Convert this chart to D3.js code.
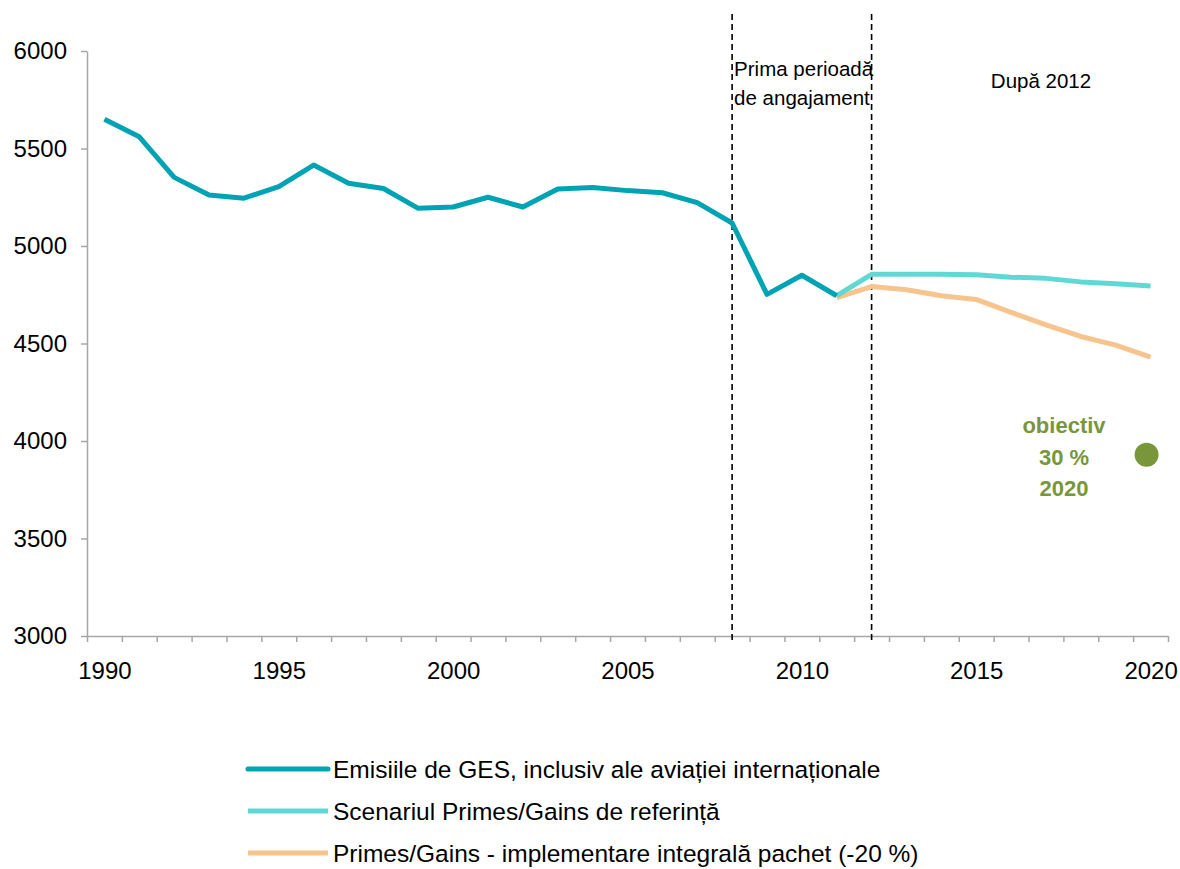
<!DOCTYPE html>
<meta charset="utf-8">
<style>
body { margin: 0; background: #fff; }
svg { font-family: "Liberation Sans", Arial, sans-serif; }
.axis path, .axis line { stroke: #a6a6a6; stroke-width: 1.5; }
.axis text { fill: #000; font-size: 24px; }
</style>
<svg width="1180" height="869"></svg>
<script src="https://d3js.org/d3.v7.min.js"></script>
<script>

var years = d3.range(1990, 2021);
var labelYears = [1990, 1995, 2000, 2005, 2010, 2015, 2020];
var yTicks = [3000, 3500, 4000, 4500, 5000, 5500, 6000];

// emisii istorice 1990-2011
var histYears = d3.range(1990, 2012);
var histValues = [5650, 5560, 5352, 5262, 5245, 5304, 5415, 5322, 5295, 5193,
                  5200, 5250, 5200, 5292, 5300, 5284, 5273, 5222, 5118, 4752,
                  4850, 4745];

// scenarii 2011-2020
var scenYears = d3.range(2011, 2021);
var refValues = [4745, 4855, 4855, 4855, 4853, 4840, 4834, 4816, 4806, 4795];
var pkgValues = [4735, 4792, 4776, 4745, 4726, 4660, 4596, 4536, 4492, 4430];

var target = {year: 2020, value: 3930};
var periodYears = [2008, 2012];

var seriesNames = [
  "Emisiile de GES, inclusiv ale aviației internaționale",
  "Scenariul Primes/Gains de referință",
  "Primes/Gains - implementare integrală pachet (-20 %)"
];
var seriesColors = ["#00a3b4", "#60d8d4", "#f8c48e"];

var svg = d3.select("svg");

var x = d3.scaleLinear().domain([1989.5, 2020.5]).range([87, 1168]);
var y = d3.scaleLinear().domain([3000, 6000]).range([636, 51]);

// axa Y
svg.append("g")
    .attr("class", "axis")
    .attr("transform", "translate(87,0)")
    .call(d3.axisLeft(y).tickValues(yTicks).tickSize(6).tickSizeOuter(0).tickPadding(14).tickFormat(d3.format("d")));

// axa X: marcaje intre categorii
svg.append("g")
    .attr("class", "axis")
    .attr("transform", "translate(0,636)")
    .call(d3.axisBottom(x).tickValues(d3.range(1989.5, 2021, 1)).tickSize(6).tickSizeOuter(0).tickFormat(""));

// axa X: etichete
var xl = svg.append("g")
    .attr("class", "axis")
    .attr("transform", "translate(0,636)")
    .call(d3.axisBottom(x).tickValues(labelYears).tickSize(0).tickPadding(26).tickFormat(d3.format("d")));
xl.select(".domain").remove();

// linii verticale punctate
svg.selectAll(".period")
  .data(periodYears)
  .enter().append("line")
    .attr("x1", function(d) { return x(d); })
    .attr("x2", function(d) { return x(d); })
    .attr("y1", 14)
    .attr("y2", 640)
    .attr("stroke", "#000")
    .attr("stroke-width", 1.6)
    .attr("stroke-dasharray", "6,4");

var ann = svg.append("g").style("font-size", "20.5px");
ann.append("text").attr("x", x(2008) + 2).attr("y", 76).text("Prima perioadă");
ann.append("text").attr("x", x(2008) + 2).attr("y", 105).text("de angajament");
ann.append("text").attr("x", 1041).attr("y", 88).attr("text-anchor", "middle").text("După 2012");

var line = d3.line()
    .x(function(d) { return x(d[0]); })
    .y(function(d) { return y(d[1]); });

var series = [
  d3.zip(histYears, histValues),
  d3.zip(scenYears, refValues),
  d3.zip(scenYears, pkgValues)
];

// ordinea de desen: scenariile sub linia istorica
[2, 1, 0].forEach(function(i) {
  svg.append("path")
      .datum(series[i])
      .attr("fill", "none")
      .attr("stroke", seriesColors[i])
      .attr("stroke-width", 5)
      .attr("stroke-linejoin", "round")
      .attr("d", line);
});

// obiectiv 2020
svg.append("circle")
    .attr("cx", x(target.year) - 4)
    .attr("cy", y(target.value))
    .attr("r", 12)
    .attr("fill", "#77973a");

var obj = svg.append("g")
    .attr("fill", "#77973a")
    .attr("text-anchor", "middle")
    .style("font-size", "22px")
    .style("font-weight", "bold");
["obiectiv", "30 %", "2020"].forEach(function(t, i) {
  obj.append("text").attr("x", 1064).attr("y", 433 + i * 31.5).text(t);
});

// legenda
var leg = svg.append("g").selectAll("g")
  .data(seriesNames)
  .enter().append("g")
    .attr("transform", function(d, i) { return "translate(248," + (769 + i * 42) + ")"; });
leg.append("line")
    .attr("x1", 0).attr("x2", 80)
    .attr("stroke", function(d, i) { return seriesColors[i]; })
    .attr("stroke-width", 5)
    .attr("stroke-linecap", function(d, i) { return i === 0 ? "round" : "butt"; });
leg.append("text")
    .attr("x", 85)
    .attr("dy", "0.35em")
    .style("font-size", "24.5px")
    .text(function(d) { return d; });

</script>
